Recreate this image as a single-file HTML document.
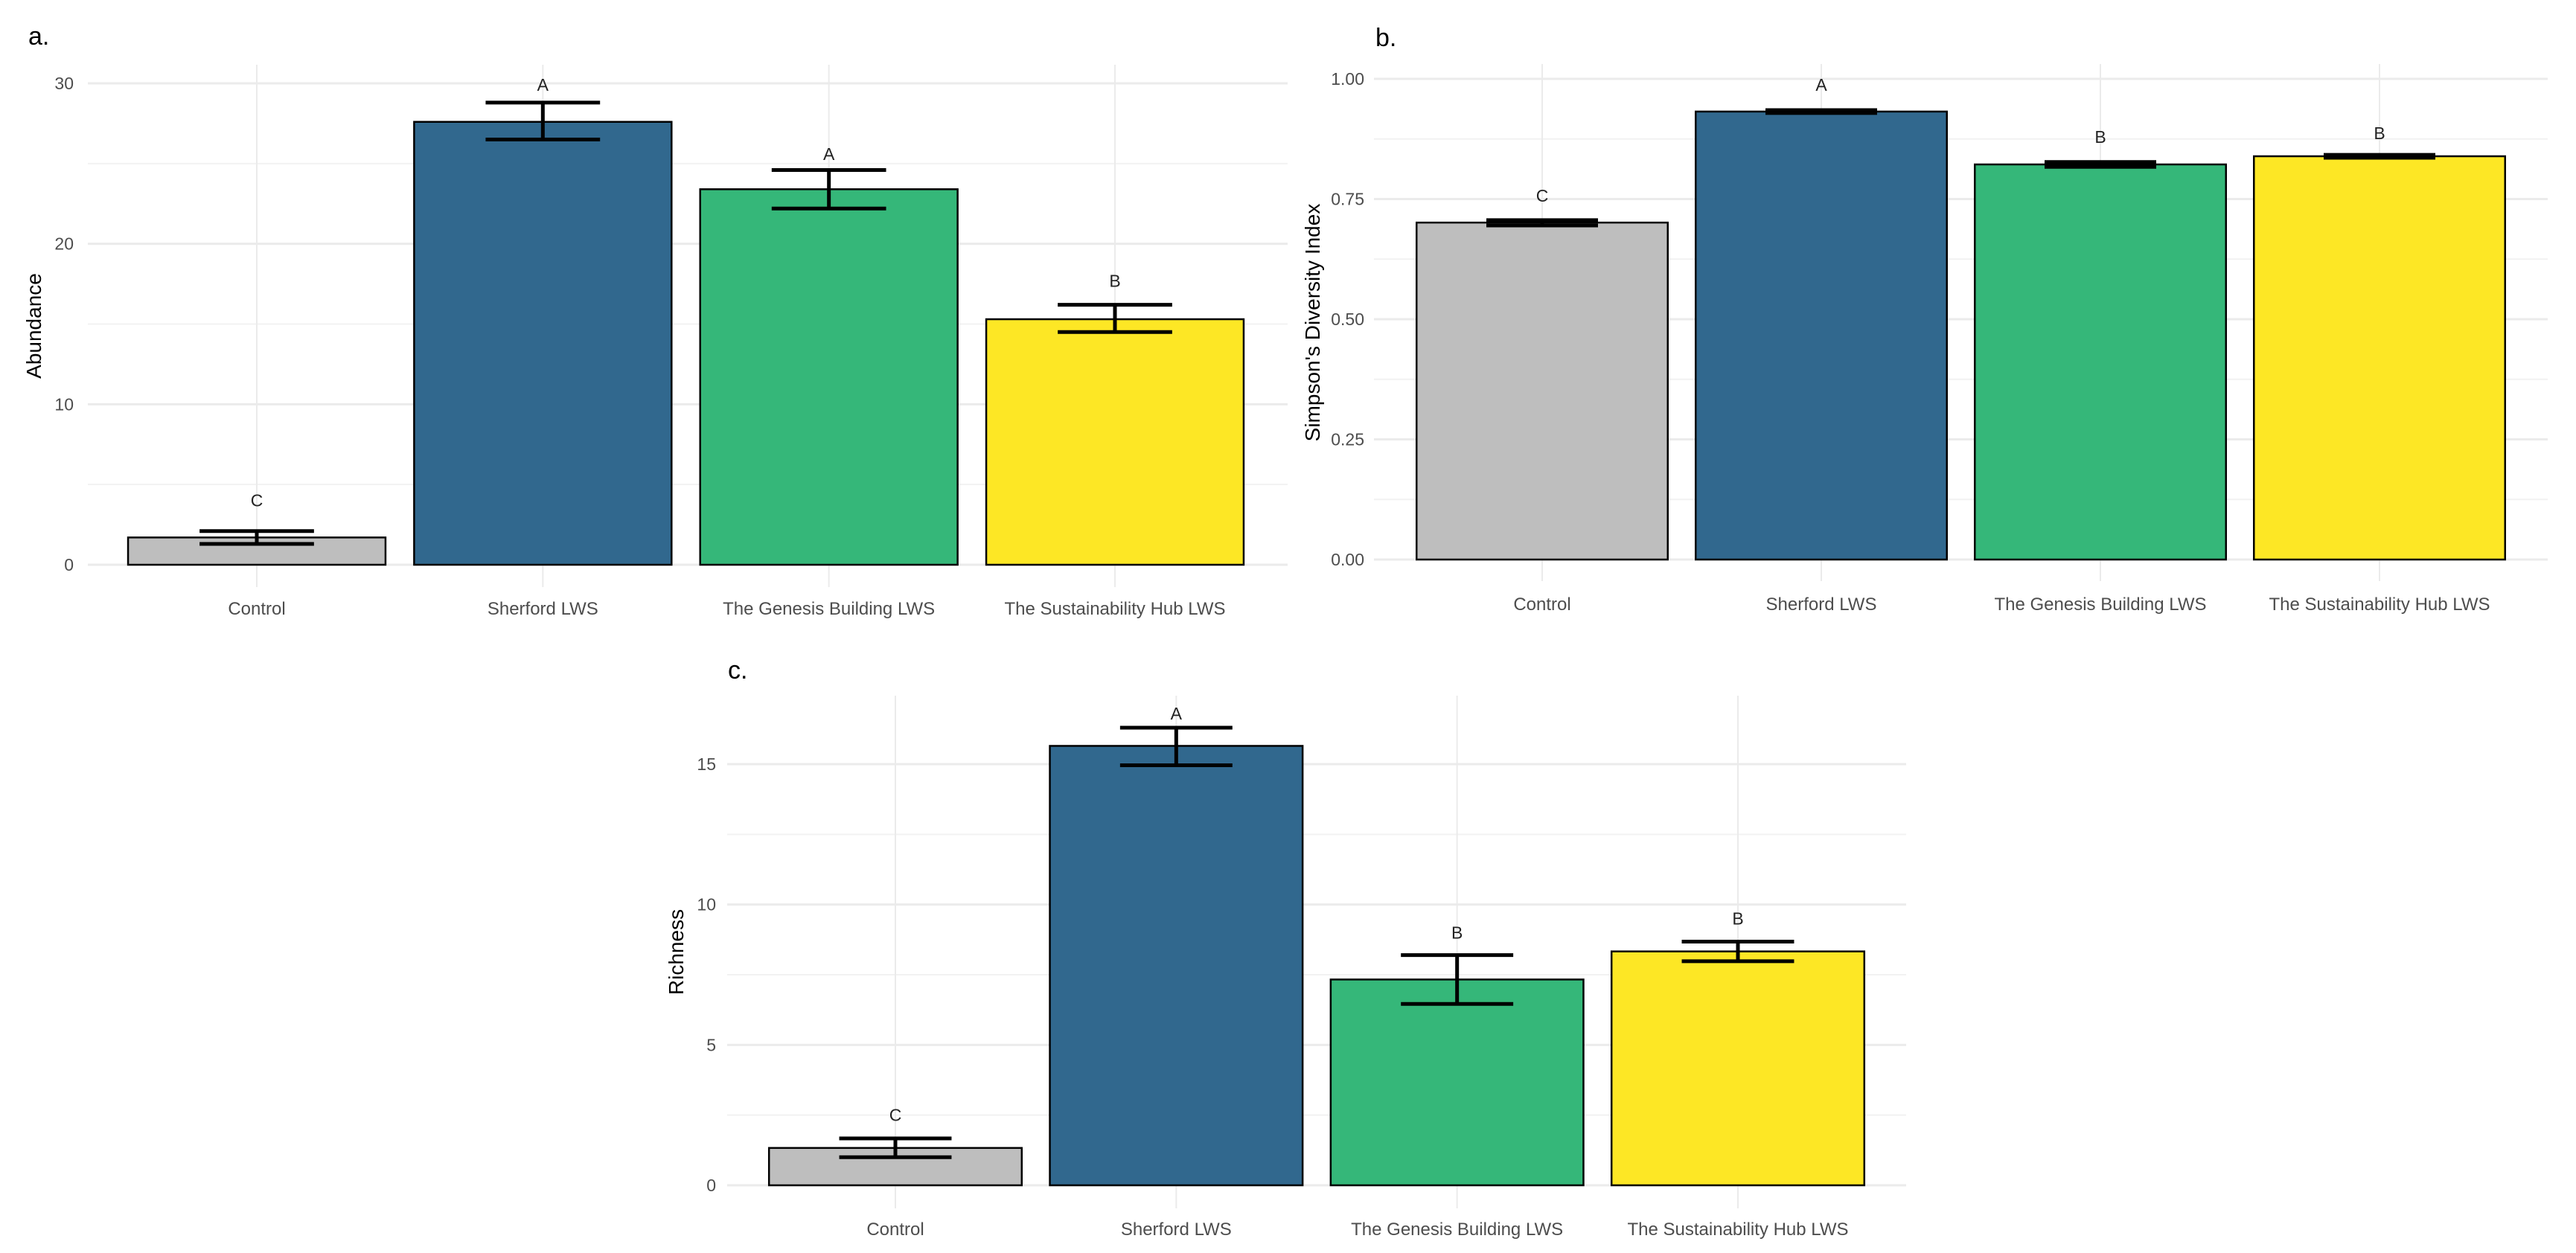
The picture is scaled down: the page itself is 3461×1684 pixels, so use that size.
<!DOCTYPE html>
<html><head><meta charset="utf-8">
<style>
html,body{margin:0;padding:0;background:#fff;}
svg{display:block;font-family:"Liberation Sans",Arial,sans-serif;}
</style></head>
<body>
<svg id="fig" width="3461" height="1684" viewBox="0 0 3461 1684" xmlns="http://www.w3.org/2000/svg"></svg>
<script>
const categories = ["Control","Sherford LWS","The Genesis Building LWS","The Sustainability Hub LWS"];
const colors = ["#bebebe","#31688e","#35b779","#fde725"];
// Panel a: Abundance
const abundMean = [1.7, 27.6, 23.4, 15.3];
const abundLow  = [1.3, 26.5, 22.2, 14.5];
const abundHigh = [2.1, 28.8, 24.6, 16.2];
const abundLetters = ["C","A","A","B"];
const abundLetterY = [4.0, 29.9, 25.6, 17.7];
const abundTicks = [0,10,20,30];
const abundMinor = [5,15,25];
// Panel b: Simpson
const simpMean = [0.701, 0.932, 0.822, 0.839];
const simpLow  = [0.695, 0.929, 0.817, 0.836];
const simpHigh = [0.706, 0.935, 0.827, 0.842];
const simpLetters = ["C","A","B","B"];
const simpLetterY = [0.757, 0.988, 0.879, 0.887];
const simpTicks = [0,0.25,0.5,0.75,1.0];
const simpTickLabels = ["0.00","0.25","0.50","0.75","1.00"];
const simpMinor = [0.125,0.375,0.625,0.875];
// Panel c: Richness
const richMean = [1.33, 15.65, 7.33, 8.33];
const richLow  = [1.0, 14.96, 6.46, 7.98];
const richHigh = [1.67, 16.3, 8.2, 8.68];
const richLetters = ["C","A","B","B"];
const richLetterY = [2.5, 16.8, 9.0, 9.5];
const richTicks = [0,5,10,15];
const richMinor = [2.5,7.5,12.5,17.5];

const NS="http://www.w3.org/2000/svg";
const svg=document.getElementById('fig');
function mk(tag,attrs,parent,text){
  const e=document.createElementNS(NS,tag);
  for(const k in attrs)e.setAttribute(k,attrs[k]);
  if(text!==undefined)e.textContent=text;
  (parent||svg).appendChild(e);return e;
}
function panel(cfg){
  const g=mk('g',{});
  
  
  const y=v=>cfg.y0-(v-cfg.vmin)*(cfg.y0-cfg.y1)/(cfg.vmax-cfg.vmin);
  const step=(cfg.cx1-cfg.cx0)/3;
  const x=i=>cfg.cx0+i*step;
  // minor grid
  cfg.minor.forEach(v=>{const yy=y(v); if(yy<cfg.gt)return;
    const l=mk('line',{x1:cfg.gl,x2:cfg.gr,y1:yy,y2:yy,stroke:'#f2f2f2','stroke-width':2},g);
    });
  cfg.ticks.forEach((v,i)=>{const yy=y(v);
    const l=mk('line',{x1:cfg.gl,x2:cfg.gr,y1:yy,y2:yy,stroke:'#ebebeb','stroke-width':3},g);
    
    const t=mk('text',{x:cfg.tx,y:yy+8,'text-anchor':'end','font-size':23,fill:'#4d4d4d'},g,cfg.tickLabels?cfg.tickLabels[i]:String(v));
    });
  categories.forEach((c,i)=>{
    const l=mk('line',{x1:x(i),x2:x(i),y1:cfg.gt,y2:cfg.gb,stroke:'#ebebeb','stroke-width':2},g);
    });
  const bw=step*0.9, cw=step*0.4;
  categories.forEach((c,i)=>{
    const top=y(cfg.mean[i]), base=y(0);
    const b=mk('rect',{x:x(i)-bw/2,y:top,width:bw,height:base-top,fill:colors[i],stroke:'#000','stroke-width':2.5},g);
    
    const eb=mk('g',{stroke:'#000','stroke-width':5},g);
    
    const yl=y(cfg.low[i]), yh=y(cfg.high[i]);
    mk('line',{x1:x(i),x2:x(i),y1:yh,y2:yl},eb);
    mk('line',{x1:x(i)-cw/2,x2:x(i)+cw/2,y1:yh,y2:yh},eb);
    mk('line',{x1:x(i)-cw/2,x2:x(i)+cw/2,y1:yl,y2:yl},eb);
    const lt=mk('text',{x:x(i),y:y(cfg.letterY[i])+8,'text-anchor':'middle','font-size':23,fill:'#222'},g,cfg.letters[i]);
    
    const xt=mk('text',{x:x(i),y:cfg.xly,'text-anchor':'middle','font-size':24,fill:'#4d4d4d'},g,c);
    
  });
  const yt=mk('text',{x:0,y:0,'text-anchor':'middle','font-size':28,fill:'#000',transform:`translate(${cfg.ytx},${(cfg.gt+cfg.gb)/2}) rotate(-90)`},g,cfg.ytitle);
  
  const pl=mk('text',{x:cfg.plx,y:cfg.ply,'font-size':34,fill:'#000'},g,cfg.label);
  
}
panel({name:'panel-a-abundance',vmin:0,vmax:30,y0:759,y1:112,cx0:345,cx1:1498,gl:118,gr:1730,gt:87,gb:789,tx:99,
  ticks:abundTicks,minor:abundMinor,mean:abundMean,low:abundLow,high:abundHigh,letters:abundLetters,letterY:abundLetterY,
  xly:826,ytx:55,ytitle:'Abundance',label:'a.',plx:38,ply:60});
panel({name:'panel-b-simpson',vmin:0,vmax:1,y0:752,y1:106,cx0:2072,cx1:3197,gl:1846,gr:3423,gt:86,gb:781,tx:1833,
  ticks:simpTicks,tickLabels:simpTickLabels,minor:simpMinor,mean:simpMean,low:simpLow,high:simpHigh,letters:simpLetters,letterY:simpLetterY,
  xly:820,ytx:1773,ytitle:"Simpson's Diversity Index",label:'b.',plx:1848,ply:62});
panel({name:'panel-c-richness',vmin:0,vmax:15,y0:1593,y1:1027,cx0:1203,cx1:2335,gl:977,gr:2561,gt:935,gb:1624,tx:962,
  ticks:richTicks,minor:richMinor,mean:richMean,low:richLow,high:richHigh,letters:richLetters,letterY:richLetterY,
  xly:1660,ytx:918,ytitle:'Richness',label:'c.',plx:978,ply:912});
</script>
</body></html>
